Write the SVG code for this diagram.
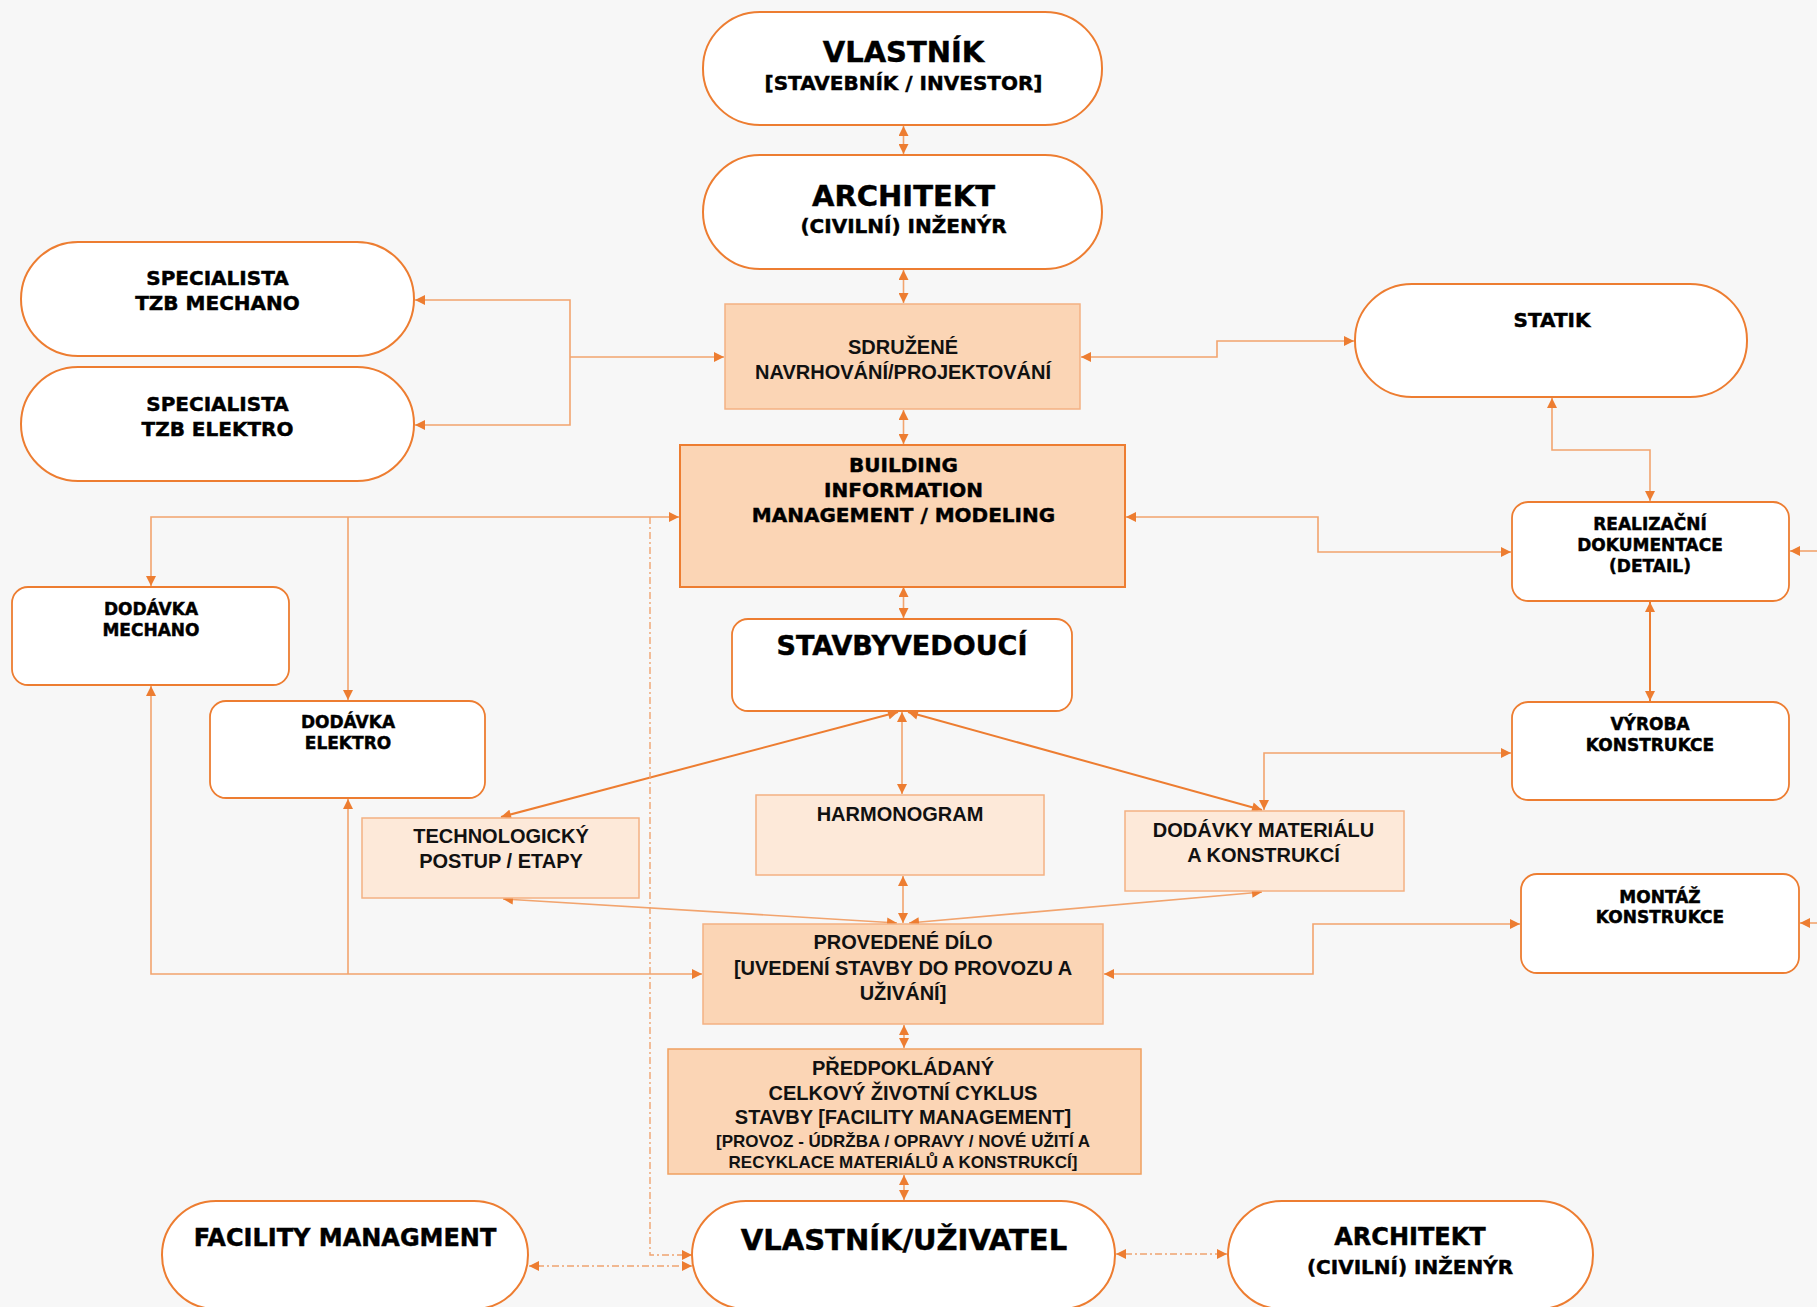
<svg xmlns="http://www.w3.org/2000/svg" width="1817" height="1307" viewBox="0 0 1817 1307">
  <defs>
    <style>
      .pill { fill: #ffffff; stroke: #ed7d31; stroke-width: 2; }
      .card { fill: #ffffff; stroke: #ed7d31; stroke-width: 1.8; }
      .peach { fill: #fbd5b5; stroke: #f4b183; stroke-width: 1.5; }
      .bim { fill: #fbd5b5; stroke: #ed7d31; stroke-width: 2; }
      .light { fill: #fde9d9; stroke: #f4b183; stroke-width: 1.5; }
      .heavy { font-family: "DejaVu Sans", "Liberation Sans", sans-serif; font-weight: bold; fill: #000; stroke: #000; stroke-width: 0.45; text-anchor: middle; }
      .med { font-family: "Liberation Sans", Arial, sans-serif; font-weight: bold; fill: #111; text-anchor: middle; }
      .ln { fill: none; stroke: #f2a46e; stroke-width: 1.6; marker-start: url(#ah); marker-end: url(#ah); }
      .lnd { fill: none; stroke: #ed7d31; stroke-width: 2; marker-start: url(#ah); marker-end: url(#ah); }
      .one { fill: none; stroke: #f2a46e; stroke-width: 1.6; marker-end: url(#ah); }
      .dd { fill: none; stroke: #f0a470; stroke-width: 1.4; stroke-dasharray: 7 3 2 3; }
      .tip { fill: none; stroke: #f0a470; stroke-width: 1.4; marker-end: url(#ah); }
    </style>
    <marker id="ah" viewBox="0 0 10 10" refX="10" refY="5" markerWidth="11" markerHeight="10" markerUnits="userSpaceOnUse" orient="auto-start-reverse">
      <path d="M0,0 L10,5 L0,10 Z" fill="#ed7d31"/>
    </marker>
  </defs>

  <rect x="0" y="0" width="1817" height="1307" fill="#f7f7f7"/>

  <!-- connectors -->
  <g id="connectors">
    <!-- main vertical chain -->
    <path class="ln" d="M903.5 126 V154"/>
    <path class="ln" d="M903.5 270 V303"/>
    <path class="ln" d="M903.5 410 V444"/>
    <path class="ln" d="M903.5 587 V618"/>
    <path class="ln" d="M904 1025 V1048"/>
    <path class="ln" d="M904 1175 V1200"/>

    <!-- joint design to MEP specialists -->
    <path class="ln" d="M415 300 H570 V425 H415"/>
    <path class="one" d="M570 357 H724"/>

    <!-- joint design to structural engineer -->
    <path class="ln" d="M1081 357 H1217 V341 H1354"/>

    <!-- structural engineer to detailed documentation -->
    <path class="ln" d="M1552 398 V450 H1650 V501"/>

    <!-- BIM to detailed documentation -->
    <path class="ln" d="M1126 517 H1318 V552 H1511"/>
    <path class="one" d="M1817 551 H1790"/>

    <!-- documentation to fabrication -->
    <path class="lnd" d="M1650 602 V701"/>

    <!-- fabrication to material supplies -->
    <path class="ln" d="M1511 753 H1264 V810"/>

    <!-- BIM to supplies (left) -->
    <path class="ln" d="M151 586 V517 H679"/>
    <path class="one" d="M348 517 V700"/>

    <!-- supplies to completed work -->
    <path class="ln" d="M151 686 V974 H702"/>
    <path class="one" d="M348 974 V799"/>

    <!-- site manager fan-out -->
    <path class="lnd" d="M898 712 L501 817"/>
    <path class="ln" d="M902 712 V794"/>
    <path class="lnd" d="M908 712 L1262 810"/>

    <!-- into completed work -->
    <path class="ln" d="M503 899 L897 923"/>
    <path class="ln" d="M903 876 V923"/>
    <path class="ln" d="M1262 892 L909 923"/>

    <!-- completed work to assembly -->
    <path class="ln" d="M1104 974 H1313 V924 H1520"/>
    <path class="one" d="M1817 923 H1800"/>

    <!-- dash-dot links -->
    <path class="dd" d="M650 517 V1255 H684"/>
    <path class="tip" d="M684 1255 H692"/>
    <path class="dd" d="M537 1266 H684"/>
    <path class="tip" d="M540 1266 H529"/>
    <path class="tip" d="M684 1266 H692"/>
    <path class="dd" d="M1125 1254 H1219"/>
    <path class="tip" d="M1125 1254 H1116"/>
    <path class="tip" d="M1219 1254 H1227"/>
  </g>

  <!-- owner / investor -->
  <g id="vlastnik">
    <rect class="pill" x="703" y="12" width="399" height="113" rx="57" ry="56"/>
    <text class="heavy" x="903.5" y="62" font-size="29">VLASTNÍK</text>
    <text class="heavy" x="903.5" y="90" font-size="20">[STAVEBNÍK / INVESTOR]</text>
  </g>

  <g id="architekt">
    <rect class="pill" x="703" y="155" width="399" height="114" rx="57" ry="57"/>
    <text class="heavy" x="903.5" y="206" font-size="29">ARCHITEKT</text>
    <text class="heavy" x="903.5" y="233" font-size="20">(CIVILNÍ) INŽENÝR</text>
  </g>

  <g id="specialista-mechano">
    <rect class="pill" x="21" y="242" width="393" height="114" rx="57" ry="57"/>
    <text class="heavy" x="217.5" y="285" font-size="20">SPECIALISTA</text>
    <text class="heavy" x="217.5" y="310" font-size="20">TZB MECHANO</text>
  </g>

  <g id="specialista-elektro">
    <rect class="pill" x="21" y="367" width="393" height="114" rx="57" ry="57"/>
    <text class="heavy" x="217.5" y="411" font-size="20">SPECIALISTA</text>
    <text class="heavy" x="217.5" y="436" font-size="20">TZB ELEKTRO</text>
  </g>

  <g id="sdruzene">
    <rect class="peach" x="725" y="304" width="355" height="105"/>
    <text class="med" x="903" y="354" font-size="20">SDRUŽENÉ</text>
    <text class="med" x="903" y="379" font-size="20">NAVRHOVÁNÍ/PROJEKTOVÁNÍ</text>
  </g>

  <g id="statik">
    <rect class="pill" x="1355" y="284" width="392" height="113" rx="57" ry="56"/>
    <text class="heavy" x="1552" y="327" font-size="20">STATIK</text>
  </g>

  <g id="bim">
    <rect class="bim" x="680" y="445" width="445" height="142"/>
    <text class="heavy" x="903.5" y="472" font-size="20">BUILDING</text>
    <text class="heavy" x="903.5" y="497" font-size="20">INFORMATION</text>
    <text class="heavy" x="903.5" y="522" font-size="20">MANAGEMENT / MODELING</text>
  </g>

  <g id="realizacni-dokumentace">
    <rect class="card" x="1512" y="502" width="277" height="99" rx="16"/>
    <text class="heavy" x="1650" y="530" font-size="17">REALIZAČNÍ</text>
    <text class="heavy" x="1650" y="551" font-size="17">DOKUMENTACE</text>
    <text class="heavy" x="1650" y="572" font-size="17">(DETAIL)</text>
  </g>

  <g id="dodavka-mechano">
    <rect class="card" x="12" y="587" width="277" height="98" rx="16"/>
    <text class="heavy" x="151" y="615" font-size="17">DODÁVKA</text>
    <text class="heavy" x="151" y="636" font-size="17">MECHANO</text>
  </g>

  <g id="dodavka-elektro">
    <rect class="card" x="210" y="701" width="275" height="97" rx="16"/>
    <text class="heavy" x="348" y="728" font-size="17">DODÁVKA</text>
    <text class="heavy" x="348" y="749" font-size="17">ELEKTRO</text>
  </g>

  <g id="stavbyvedouci">
    <rect class="card" x="732" y="619" width="340" height="92" rx="16"/>
    <text class="heavy" x="902" y="655" font-size="27">STAVBYVEDOUCÍ</text>
  </g>

  <g id="vyroba-konstrukce">
    <rect class="card" x="1512" y="702" width="277" height="98" rx="16"/>
    <text class="heavy" x="1650" y="730" font-size="17">VÝROBA</text>
    <text class="heavy" x="1650" y="751" font-size="17">KONSTRUKCE</text>
  </g>

  <g id="technologicky-postup">
    <rect class="light" x="362" y="818" width="277" height="80"/>
    <text class="med" x="501" y="843" font-size="20">TECHNOLOGICKÝ</text>
    <text class="med" x="501" y="868" font-size="20">POSTUP / ETAPY</text>
  </g>

  <g id="harmonogram">
    <rect class="light" x="756" y="795" width="288" height="80"/>
    <text class="med" x="900" y="821" font-size="20">HARMONOGRAM</text>
  </g>

  <g id="dodavky-materialu">
    <rect class="light" x="1125" y="811" width="279" height="80"/>
    <text class="med" x="1263.5" y="837" font-size="20">DODÁVKY MATERIÁLU</text>
    <text class="med" x="1263.5" y="862" font-size="20">A KONSTRUKCÍ</text>
  </g>

  <g id="montaz-konstrukce">
    <rect class="card" x="1521" y="874" width="278" height="99" rx="16"/>
    <text class="heavy" x="1660" y="903" font-size="17">MONTÁŽ</text>
    <text class="heavy" x="1660" y="923" font-size="17">KONSTRUKCE</text>
  </g>

  <g id="provedene-dilo">
    <rect class="peach" x="703" y="924" width="400" height="100"/>
    <text class="med" x="903" y="949" font-size="20">PROVEDENÉ DÍLO</text>
    <text class="med" x="903" y="975" font-size="20">[UVEDENÍ STAVBY DO PROVOZU A</text>
    <text class="med" x="903" y="1000" font-size="20">UŽIVÁNÍ]</text>
  </g>

  <g id="zivotni-cyklus">
    <rect class="peach" x="668" y="1049" width="473" height="125" style="stroke:#f0a060"/>
    <text class="med" x="903" y="1075" font-size="20">PŘEDPOKLÁDANÝ</text>
    <text class="med" x="903" y="1100" font-size="20">CELKOVÝ ŽIVOTNÍ CYKLUS</text>
    <text class="med" x="903" y="1124" font-size="20">STAVBY [FACILITY MANAGEMENT]</text>
    <text class="med" x="903" y="1147" font-size="17">[PROVOZ - ÚDRŽBA / OPRAVY / NOVÉ UŽITÍ A</text>
    <text class="med" x="903" y="1168" font-size="17">RECYKLACE MATERIÁLŮ A KONSTRUKCÍ]</text>
  </g>

  <g id="facility-managment">
    <rect class="pill" x="162" y="1201" width="366" height="108" rx="54"/>
    <text class="heavy" x="345" y="1246" font-size="24">FACILITY MANAGMENT</text>
  </g>

  <g id="vlastnik-uzivatel">
    <rect class="pill" x="692" y="1201" width="423" height="108" rx="54"/>
    <text class="heavy" x="904" y="1250" font-size="29">VLASTNÍK/UŽIVATEL</text>
  </g>

  <g id="architekt-provoz">
    <rect class="pill" x="1228" y="1201" width="365" height="108" rx="54"/>
    <text class="heavy" x="1410" y="1245" font-size="24">ARCHITEKT</text>
    <text class="heavy" x="1410" y="1274" font-size="20">(CIVILNÍ) INŽENÝR</text>
  </g>
</svg>
